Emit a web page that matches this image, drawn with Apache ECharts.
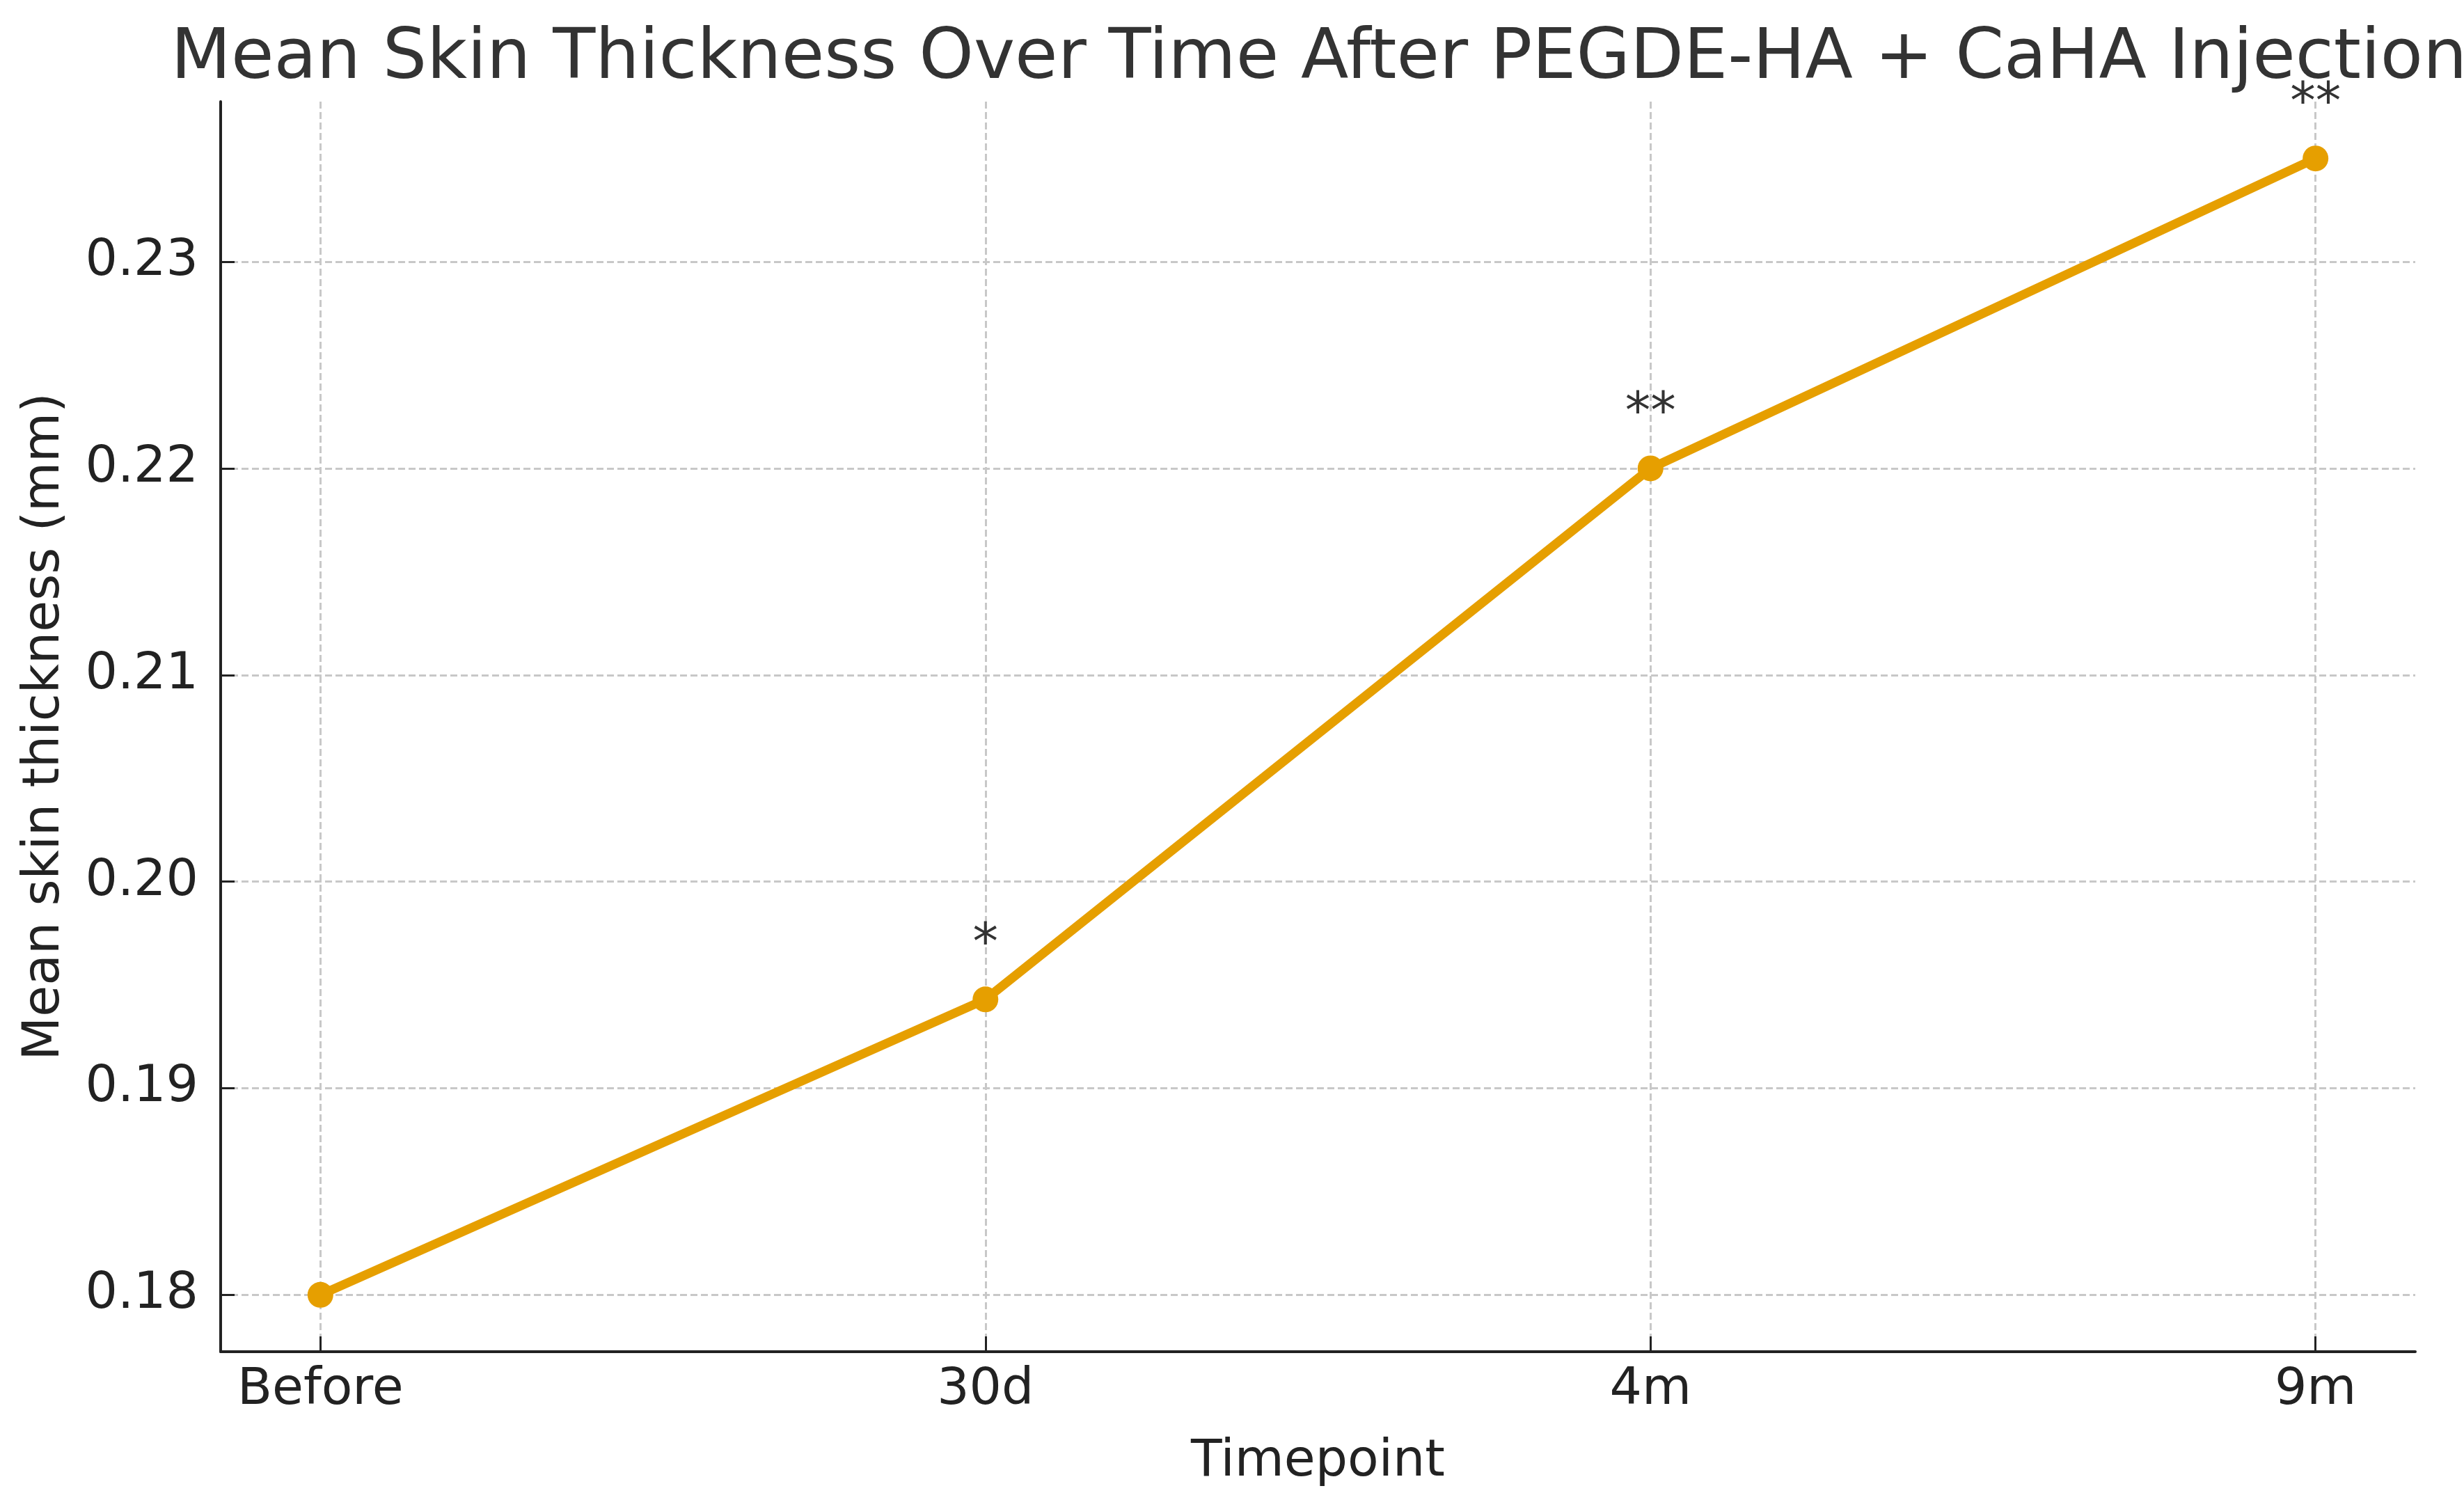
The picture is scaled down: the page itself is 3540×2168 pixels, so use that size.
<!DOCTYPE html>
<html><head><meta charset="utf-8">
<script src="https://cdn.jsdelivr.net/npm/echarts@6/dist/echarts.min.js"></script>
<style>html,body{margin:0;padding:0;background:#fff}#c{width:3540px;height:2168px}</style>
</head><body><div id="c"></div>
<script>
const categories = ['Before', '30d', '4m', '9m'];
const thickness = [0.18, 0.1943, 0.22, 0.235];
const significance = ['', '*', '**', '**'];
const yTicks = [0.18, 0.19, 0.20, 0.21, 0.22, 0.23];
const xTicks = [0, 1, 2, 3];

const FONT = 'DejaVu Sans';
const chart = echarts.init(document.getElementById('c'), null, {renderer: 'canvas'});
const splitStyle = {show: true, lineStyle: {color: '#c8c8c8', width: 3, type: [10, 5]}};
chart.setOption({
  animation: false,
  backgroundColor: '#ffffff',
  title: {
    text: 'Mean Skin Thickness Over Time After PEGDE-HA + CaHA Injection',
    left: 1890, top: 31, textAlign: 'center',
    textStyle: {fontFamily: FONT, fontSize: 100, fontWeight: 'normal', color: '#333333'}
  },
  grid: {left: 317, right: 70, top: 146, bottom: 226, containLabel: false, outerBoundsMode: 'none'},
  xAxis: {
    type: 'value', min: -0.15, max: 3.15,
    name: 'Timepoint', nameLocation: 'middle', nameGap: 123,
    nameTextStyle: {fontFamily: FONT, fontSize: 73, color: '#222222'},
    axisLine: {show: true, onZero: false, lineStyle: {color: '#222222', width: 4}},
    axisTick: {show: true, inside: true, length: 22, customValues: xTicks, lineStyle: {color: '#222222', width: 3}},
    axisLabel: {show: true, margin: 20, customValues: xTicks, fontFamily: FONT, fontSize: 73, color: '#222222',
      formatter: v => categories[Math.round(v)] ?? ''},
    splitLine: splitStyle
  },
  yAxis: {
    type: 'value', min: 0.17725, max: 0.23775,
    name: 'Mean skin thickness (mm)', nameLocation: 'middle', nameGap: 215, nameRotate: 90,
    nameTextStyle: {fontFamily: FONT, fontSize: 73, color: '#222222'},
    axisLine: {show: true, onZero: false, lineStyle: {color: '#222222', width: 4}},
    axisTick: {show: true, inside: true, length: 20, customValues: yTicks, lineStyle: {color: '#222222', width: 3}},
    axisLabel: {show: true, margin: 32, customValues: yTicks, fontFamily: FONT, fontSize: 73, color: '#222222',
      formatter: v => v.toFixed(2)},
    splitLine: splitStyle
  },
  series: [{
    type: 'line',
    data: categories.map((c, i) => [i, thickness[i]]),
    symbol: 'circle', symbolSize: 37,
    itemStyle: {color: '#E69F00'},
    lineStyle: {color: '#E69F00', width: 13},
    label: {show: true, position: 'top', distance: 22,
      formatter: p => significance[p.dataIndex],
      fontFamily: FONT, fontSize: 73, color: '#333333'},
    z: 3
  }]
});
</script></body></html>
